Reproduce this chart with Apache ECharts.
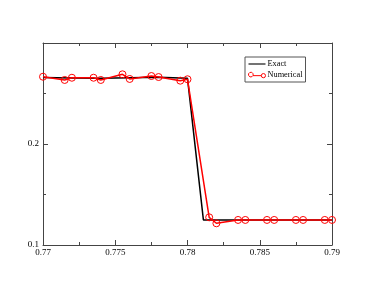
<!DOCTYPE html>
<html><head><meta charset="utf-8">
<script src="https://cdn.jsdelivr.net/npm/echarts@6/dist/echarts.min.js"></script>
<style>html,body{margin:0;padding:0;background:#fff}#c{width:374px;height:289px}</style>
</head><body><div id="c"></div>
<script>
var exactX = [0.77, 0.772, 0.774, 0.776, 0.778, 0.78, 0.7811, 0.79];
var exactY = [0.2658, 0.2653, 0.2652, 0.2656, 0.2660, 0.2650, 0.1248, 0.1248];
var numX = [0.77, 0.7715, 0.772, 0.7735, 0.774, 0.7755, 0.776, 0.7775, 0.778, 0.7795, 0.78,
            0.7815, 0.782, 0.7835, 0.784, 0.7855, 0.786, 0.7875, 0.788, 0.7895, 0.79];
var numY = [0.2666, 0.2634, 0.2656, 0.2656, 0.2634, 0.2690, 0.2644, 0.2673, 0.2663, 0.2627, 0.2641,
            0.1274, 0.1215, 0.1248, 0.1248, 0.1248, 0.1248, 0.1248, 0.1248, 0.1248, 0.1248];
var xTicks = [0.77, 0.775, 0.78, 0.785, 0.79];
var yTicks = [0.1, 0.2];

function zip(a, b) { return a.map(function (v, i) { return [v, b[i]]; }); }
var font = {fontFamily: 'Liberation Serif', fontSize: 9, color: '#000'};
var axisLine = {show: true, lineStyle: {color: '#444', width: 1}};
function fmtX(v) { var r = parseFloat(v.toFixed(4)); return xTicks.indexOf(r) >= 0 ? String(r) : ''; }
function fmtY(v) { var r = parseFloat(v.toFixed(4)); return yTicks.indexOf(r) >= 0 ? String(r) : ''; }

var chart = echarts.init(document.getElementById('c'));
chart.setOption({
  animation: false,
  grid: {left: 43, right: 42, top: 43, bottom: 44},
  legend: {
    orient: 'vertical', left: 245, top: 57,
    itemWidth: 17, itemHeight: 6, itemGap: 3,
    padding: [3, 3, 3, 3],
    borderColor: '#555', borderWidth: 1,
    textStyle: {fontFamily: 'Liberation Serif', fontSize: 8.3, color: '#000', padding: [0, 0, 0, -3]},
    data: [
      {name: 'Exact', icon: 'path://M0,0 L20,0 L20,1.3 L0,1.3 Z',
       itemStyle: {color: '#000', borderWidth: 0}},
      {name: 'Numerical', icon: 'path://M0,5 A5,5 0 1,0 10,0 A5,5 0 1,0 0,5 Z M10,5 L30,5 M30,5 A5,5 0 1,0 40,5 A5,5 0 1,0 30,5 Z',
       itemStyle: {color: 'rgba(0,0,0,0)', borderColor: '#ff0000', borderWidth: 1}}
    ]
  },
  xAxis: [
    {type: 'value', min: 0.77, max: 0.79, interval: 0.005, position: 'bottom',
     axisLine: axisLine, splitLine: {show: false},
     axisTick: {inside: true, length: 5, lineStyle: {color: '#444'}},
     minorTick: {show: true, splitNumber: 2, length: 3, lineStyle: {color: '#444'}},
     axisLabel: Object.assign({margin: 3, formatter: fmtX}, font)},
    {type: 'value', min: 0.77, max: 0.79, interval: 0.005, position: 'top',
     axisLine: axisLine, splitLine: {show: false},
     axisTick: {inside: true, length: 5, lineStyle: {color: '#444'}},
     minorTick: {show: true, splitNumber: 2, length: 3, lineStyle: {color: '#444'}},
     axisLabel: {show: false}}
  ],
  yAxis: [
    {type: 'value', min: 0.1, max: 0.3, interval: 0.1, position: 'left',
     axisLine: axisLine, splitLine: {show: false},
     axisTick: {inside: true, length: 5, lineStyle: {color: '#444'}},
     minorTick: {show: true, splitNumber: 2, length: 3, lineStyle: {color: '#444'}},
     axisLabel: Object.assign({margin: 4, formatter: fmtY}, font)},
    {type: 'value', min: 0.1, max: 0.3, interval: 0.1, position: 'right',
     axisLine: axisLine, splitLine: {show: false},
     axisTick: {inside: true, length: 5, lineStyle: {color: '#444'}},
     minorTick: {show: true, splitNumber: 2, length: 3, lineStyle: {color: '#444'}},
     axisLabel: {show: false}}
  ],
  series: [
    {name: 'Exact', type: 'line', data: zip(exactX, exactY), symbol: 'none',
     itemStyle: {color: '#000'}, lineStyle: {color: '#000', width: 1.5}, z: 2},
    {name: 'Numerical', type: 'line', data: zip(numX, numY), symbol: 'circle', symbolSize: 7,
     showAllSymbol: true,
     itemStyle: {color: 'rgba(0,0,0,0)', borderColor: '#ff0000', borderWidth: 1},
     lineStyle: {color: '#ff0000', width: 1.5}, z: 3}
  ]
});
</script></body></html>
